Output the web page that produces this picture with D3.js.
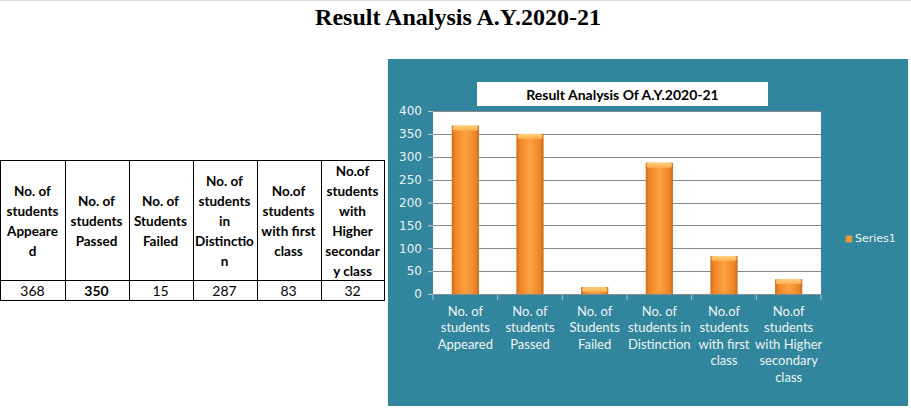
<!DOCTYPE html>
<html lang="en">
<head>
<meta charset="UTF-8">
<title>Result Analysis A.Y.2020-21</title>
<script src="https://d3js.org/d3.v7.min.js"></script>
<style>
  body { margin: 0; background: #fff; }
  svg { display: block; }
</style>
</head>
<body>
<script>
// data
const categories = [
  "No. of students Appeared",
  "No. of students Passed",
  "No. of Students Failed",
  "No. of students in Distinction",
  "No.of students with first class",
  "No.of students with Higher secondary class"
];
const values = [368, 350, 15, 287, 83, 32];
const yTicks = [0, 50, 100, 150, 200, 250, 300, 350, 400];
const axisLabels = [
  ["No. of", "students", "Appeared"],
  ["No. of", "students", "Passed"],
  ["No. of", "Students", "Failed"],
  ["No. of", "students in", "Distinction"],
  ["No.of", "students", "with first", "class"],
  ["No.of", "students", "with Higher", "secondary", "class"]
];
const headerLines = [
  ["No. of", "students", "Appeare", "d"],
  ["No. of", "students", "Passed"],
  ["No. of", "Students", "Failed"],
  ["No. of", "students", "in", "Distinctio", "n"],
  ["No.of", "students", "with first", "class"],
  ["No.of", "students", "with", "Higher", "secondar", "y class"]
];
const seriesName = "Series1";
const pageTitle = "Result Analysis A.Y.2020-21";
const chartTitle = "Result Analysis Of A.Y.2020-21";

const W = 911, H = 409;
const svg = d3.select("body").append("svg").attr("width", W).attr("height", H);

const defs = svg.append("defs");
const g1 = defs.append("linearGradient").attr("id", "barGrad").attr("x1", 0).attr("x2", 1).attr("y1", 0).attr("y2", 0);
[[0, "#cf6a17"], [0.12, "#ec8526"], [0.5, "#ffa142"], [0.88, "#ec8526"], [1, "#cb6616"]]
  .forEach(s => g1.append("stop").attr("offset", s[0]).attr("stop-color", s[1]));
const g2 = defs.append("linearGradient").attr("id", "capGrad").attr("x1", 0).attr("x2", 0).attr("y1", 0).attr("y2", 1);
[[0, "#ffd27c"], [1, "#ffab4c"]]
  .forEach(s => g2.append("stop").attr("offset", s[0]).attr("stop-color", s[1]));

svg.append("rect").attr("width", W).attr("height", 1).attr("fill", "#dcdcdc");

// page title
svg.append("text")
  .attr("x", 458).attr("y", 25)
  .attr("text-anchor", "middle")
  .style("font-family", "'Liberation Serif', 'Times New Roman', serif")
  .style("font-weight", "bold").style("font-size", "24px")
  .text(pageTitle);

// table
const tbl = svg.append("g");
const colX = d3.scaleBand().domain(d3.range(headerLines.length)).range([0.5, 384.5]);
const tTop = 160.5, tMid = 280.5, tBot = 300.5;
tbl.append("rect").attr("x", 0.5).attr("y", tTop).attr("width", 384).attr("height", tBot - tTop)
  .attr("fill", "none").attr("stroke", "#000");
tbl.append("line").attr("x1", 0.5).attr("x2", 384.5).attr("y1", tMid).attr("y2", tMid).attr("stroke", "#000");
tbl.selectAll("line.col").data(d3.range(1, headerLines.length)).enter().append("line")
  .attr("class", "col")
  .attr("x1", d => Math.round(colX(d)) + 0.5).attr("x2", d => Math.round(colX(d)) + 0.5)
  .attr("y1", tTop).attr("y2", tBot).attr("stroke", "#000");

headerLines.forEach((lines, i) => {
  const cx = colX(i) + colX.bandwidth() / 2;
  tbl.append("text")
    .attr("text-anchor", "middle")
    .style("font-family", "Lato, 'Open Sans', sans-serif")
    .style("font-weight", "bold").style("font-size", "13.5px")
    .selectAll("tspan").data(lines).enter().append("tspan")
    .attr("x", cx)
    .attr("y", (d, j) => 221.5 + (j - (lines.length - 1) / 2) * 20)
    .attr("dy", "0.35em")
    .text(d => d);
});
tbl.selectAll("text.val").data(values).enter().append("text")
  .attr("class", "val")
  .attr("x", (d, i) => colX(i) + colX.bandwidth() / 2)
  .attr("y", 291).attr("dy", "0.35em")
  .attr("text-anchor", "middle")
  .style("font-family", "Lato, 'Open Sans', sans-serif")
  .style("font-size", "14px")
  .style("font-weight", (d, i) => i === 1 ? "bold" : "normal")
  .text(d => d);

// chart panel
const panel = { x: 388, y: 59, w: 520, h: 347 };
svg.append("rect").attr("x", panel.x).attr("y", panel.y).attr("width", panel.w).attr("height", panel.h)
  .attr("fill", "#31859c");

const plot = { x0: 433, x1: 821, y0: 111, y1: 294 };
svg.append("rect").attr("x", plot.x0).attr("y", plot.y0)
  .attr("width", plot.x1 - plot.x0).attr("height", plot.y1 - plot.y0).attr("fill", "#fff");

// chart title box
svg.append("rect").attr("x", 477).attr("y", 82).attr("width", 291).attr("height", 24).attr("fill", "#fff");
svg.append("text")
  .attr("x", 622.5).attr("y", 99.5)
  .attr("text-anchor", "middle")
  .style("font-family", "Lato, 'Open Sans', sans-serif")
  .style("font-weight", "bold").style("font-size", "14px")
  .text(chartTitle);

const x = d3.scaleBand().domain(categories).range([plot.x0, plot.x1]);
const y = d3.scaleLinear().domain([0, 400]).range([plot.y1, plot.y0]);

// gridlines
svg.append("g").selectAll("line").data(yTicks.filter(t => t > 0)).enter().append("line")
  .attr("x1", plot.x0 - 5).attr("x2", plot.x1)
  .attr("y1", d => Math.round(y(d)) + 0.5).attr("y2", d => Math.round(y(d)) + 0.5)
  .attr("stroke", "#8a8a8a");

// y axis
const yAxis = svg.append("g")
  .attr("transform", `translate(${plot.x0},0)`)
  .call(d3.axisLeft(y).tickValues(yTicks).tickSize(5).tickPadding(6));
yAxis.select(".domain").remove();
yAxis.selectAll(".tick line").attr("stroke", "#b8c8cc");
yAxis.selectAll(".tick text")
  .attr("fill", "#eaf2f5")
  .style("font-family", "'DejaVu Sans', Verdana, sans-serif")
  .style("font-size", "12px");

// x axis
const xAxis = svg.append("g")
  .attr("transform", `translate(0,${plot.y1})`)
  .call(d3.axisBottom(x).tickSize(0).tickFormat(""));
xAxis.select(".domain").attr("stroke", "#8a8a8a").attr("d", `M${plot.x0},0.5H${plot.x1}`);
svg.append("g").selectAll("line").data(d3.range(categories.length + 1)).enter().append("line")
  .attr("x1", i => plot.x0 + i * x.step()).attr("x2", i => plot.x0 + i * x.step())
  .attr("y1", plot.y1 + 1).attr("y2", plot.y1 + 6)
  .attr("stroke", "#a9c3ca");

svg.append("g").selectAll("text").data(categories).enter().append("text")
  .attr("text-anchor", "middle")
  .attr("fill", "#eef4f6")
  .style("font-family", "Lato, 'Open Sans', sans-serif")
  .style("font-size", "13px")
  .each(function (d, i) {
    d3.select(this).selectAll("tspan").data(axisLabels[i]).enter().append("tspan")
      .attr("x", x(d) + x.bandwidth() / 2)
      .attr("y", (t, j) => 316 + j * 16.4)
      .text(t => t);
  });

// bars
const bw = x.step() * 0.42;
const bars = svg.append("g");
bars.selectAll("rect.bar").data(values).enter().append("rect")
  .attr("class", "bar")
  .attr("x", (d, i) => x(categories[i]) + (x.step() - bw) / 2)
  .attr("y", d => y(d))
  .attr("width", bw)
  .attr("height", d => y(0) - y(d))
  .attr("fill", "url(#barGrad)");
bars.selectAll("rect.cap").data(values).enter().append("rect")
  .attr("class", "cap")
  .attr("x", (d, i) => x(categories[i]) + (x.step() - bw) / 2 + 1)
  .attr("y", d => y(d))
  .attr("width", bw - 2)
  .attr("height", d => Math.min(5, y(0) - y(d)))
  .attr("rx", 2)
  .attr("fill", "url(#capGrad)");

// legend
const lg = svg.append("g").attr("transform", "translate(846,236)");
lg.append("rect").attr("width", 6).attr("height", 6).attr("fill", "url(#barGrad)")
  .attr("stroke", "#ffc060").attr("stroke-width", 0.5);
lg.append("text").attr("x", 9).attr("y", 6)
  .attr("fill", "#eef4f6")
  .style("font-family", "'DejaVu Sans', Verdana, sans-serif")
  .style("font-size", "11px")
  .text(seriesName);
</script>
</body>
</html>
